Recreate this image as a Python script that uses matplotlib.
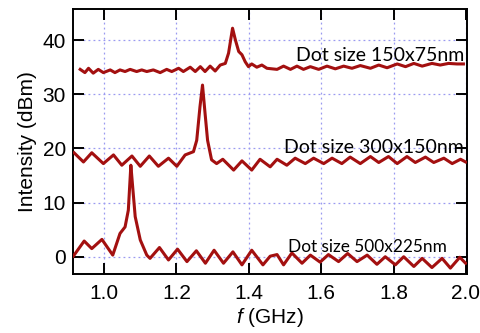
import matplotlib
matplotlib.use("Agg")
import matplotlib.pyplot as plt
from matplotlib import font_manager

# ---------------- data ----------------
f_500 = [0.915, 0.945, 0.966, 0.994, 1.024, 1.044, 1.058, 1.067, 1.074, 1.079, 1.086,
         1.100, 1.118, 1.127, 1.153, 1.178, 1.203, 1.229, 1.255, 1.280, 1.304, 1.330,
         1.356, 1.381, 1.408, 1.439, 1.459, 1.478, 1.496, 1.519, 1.547, 1.570, 1.597,
         1.620, 1.648, 1.673, 1.699, 1.727, 1.754, 1.777, 1.805, 1.828, 1.856, 1.879,
         1.906, 1.934, 1.957, 1.983, 1.999]
i_500 = [0.1, 2.9, 1.5, 3.2, 0.3, 4.3, 5.5, 8.6, 16.9, 12.9, 7.4,
         3.1, 0.3, -0.3, 1.7, -0.6, 1.4, -0.9, 1.1, -1.2, 1.2, -1.2,
         0.9, -1.5, 1.2, -1.5, 0.1, 0.4, -1.5, 0.7, -1.2, 0.3, -1.0,
         0.4, -0.9, 0.6, -0.9, 0.3, -1.4, 0.0, -1.5, 0.0, -1.8, -0.3,
         -2.0, -0.3, -2.1, -0.1, -1.2]

f_300 = [0.917, 0.943, 0.966, 0.998, 1.026, 1.049, 1.077, 1.100, 1.125, 1.150, 1.178,
         1.201, 1.224, 1.247, 1.256, 1.265, 1.272, 1.279, 1.286, 1.297, 1.311, 1.328,
         1.358, 1.381, 1.408, 1.431, 1.459, 1.478, 1.505, 1.528, 1.556, 1.579, 1.607,
         1.630, 1.657, 1.680, 1.708, 1.736, 1.759, 1.786, 1.810, 1.837, 1.860, 1.888,
         1.911, 1.939, 1.962, 1.985, 1.999]
i_300 = [19.2, 17.5, 19.2, 17.2, 18.8, 16.9, 18.6, 16.7, 18.6, 16.7, 18.2,
         16.7, 18.8, 19.4, 21.5, 27.7, 31.7, 26.5, 21.5, 17.9, 17.2, 18.0,
         16.0, 17.7, 16.0, 18.0, 16.6, 18.0, 16.9, 18.2, 17.2, 18.2, 17.2,
         18.2, 17.2, 18.4, 17.2, 18.5, 17.4, 18.5, 17.2, 18.5, 17.4, 18.4,
         17.4, 18.2, 17.2, 18.0, 17.5]

f_150 = [0.934, 0.947, 0.957, 0.970, 0.984, 0.998, 1.017, 1.030, 1.044, 1.058, 1.072,
         1.090, 1.104, 1.118, 1.136, 1.155, 1.173, 1.187, 1.206, 1.219, 1.238, 1.252,
         1.266, 1.279, 1.293, 1.307, 1.321, 1.335, 1.344, 1.355, 1.363, 1.372, 1.381,
         1.390, 1.399, 1.408, 1.422, 1.436, 1.450, 1.478, 1.496, 1.515, 1.533, 1.551,
         1.570, 1.593, 1.616, 1.639, 1.662, 1.685, 1.708, 1.736, 1.759, 1.782, 1.810,
         1.833, 1.856, 1.879, 1.906, 1.929, 1.952, 1.975, 1.993]
i_150 = [34.6, 34.0, 34.8, 33.9, 34.6, 34.0, 34.5, 34.0, 34.5, 34.2, 34.6,
         34.2, 34.5, 34.2, 34.5, 34.0, 34.6, 34.2, 34.8, 34.2, 35.0, 34.2,
         35.1, 34.2, 35.2, 34.3, 35.4, 35.7, 37.6, 42.2, 40.0, 37.9, 37.3,
         36.0, 35.1, 35.6, 35.0, 35.4, 34.8, 34.6, 35.2, 34.6, 35.2, 34.6,
         35.1, 34.6, 35.2, 34.7, 35.2, 34.8, 35.3, 34.8, 35.4, 34.9, 35.6,
         35.1, 35.7, 35.2, 35.7, 35.4, 35.7, 35.6, 35.6]

labels = ["Dot size 150x75nm", "Dot size 300x150nm", "Dot size 500x225nm"]
x_ticks = [1.0, 1.2, 1.4, 1.6, 1.8, 2.0]
y_ticks = [0, 10, 20, 30, 40]

# ---------------- styling ----------------
names = {f.name for f in font_manager.fontManager.ttflist}
tick_font = "Liberation Sans Narrow" if "Liberation Sans Narrow" in names else "Liberation Sans"
ann_font = "Lato"

plt.rcParams["mathtext.fontset"] = "custom"
plt.rcParams["mathtext.it"] = tick_font + ":italic"
plt.rcParams["mathtext.rm"] = tick_font

red = "#a31010"

fig = plt.figure(figsize=(4.8, 3.33), dpi=100)
ax = fig.add_axes([0.152, 0.177, 0.821, 0.796])

for fx, iy in [(f_500, i_500), (f_300, i_300), (f_150, i_150)]:
    ax.plot(fx, iy, color=red, lw=2.2, solid_joinstyle="round", zorder=3)

ax.set_xlim(0.914, 2.003)
ax.set_ylim(-3.2, 45.75)
ax.set_xticks(x_ticks)
ax.set_yticks(y_ticks)
ax.set_xticklabels([f"{v:.1f}" for v in x_ticks])
ax.set_yticklabels([str(v) for v in y_ticks])

ax.grid(True, color="#9a9af0", linestyle=(0, (1.5, 2.5)), linewidth=0.9, zorder=0)
ax.tick_params(direction="in", length=8, width=1.4, top=True, right=True,
               labelsize=15)
ax.tick_params(axis="x", pad=7)
ax.tick_params(axis="y", pad=5)
for lab in ax.get_xticklabels() + ax.get_yticklabels():
    lab.set_fontfamily(tick_font)
for s in ax.spines.values():
    s.set_linewidth(1.4)

ax.set_ylabel("Intensity (dBm)", fontsize=15, family=tick_font, labelpad=4)
ax.set_xlabel(r"$f$ (GHz)", fontsize=15, family=tick_font, labelpad=2)

ax.text(1.996, 36.2, labels[0], ha="right", va="baseline", fontsize=14,
        family=ann_font, zorder=4)
ax.text(1.993, 19.2, labels[1], ha="right", va="baseline", fontsize=14,
        family=ann_font, zorder=4)
ax.text(1.946, 0.92, labels[2], ha="right", va="baseline", fontsize=12.4,
        family=ann_font, zorder=4)

fig.savefig("out.png", dpi=100)
